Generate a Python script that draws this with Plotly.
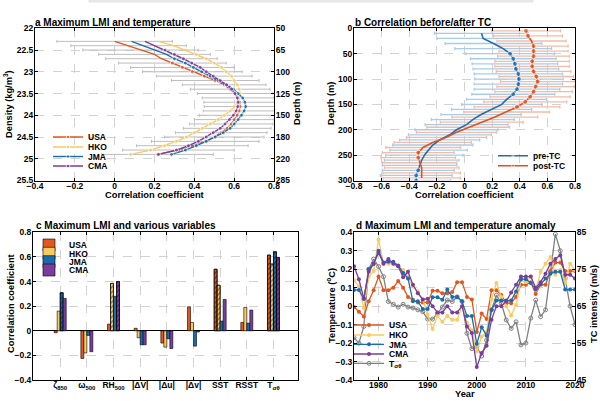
import plotly.graph_objects as go

W, H = 600, 401
FAM = "Liberation Sans"

# ---------------- panel a: max LMI vs temperature, per density level
density = [22.3, 22.4, 22.5, 22.6, 22.7, 22.8, 22.9, 23.0, 23.1, 23.2, 23.3, 23.4, 23.5, 23.6,
           23.7, 23.8, 23.9, 24.0, 24.1, 24.2, 24.3, 24.4, 24.5, 24.6, 24.7, 24.8, 24.9]
a_usa = [0.00, 0.07, 0.13, 0.20, 0.235, 0.29, 0.34, 0.39, 0.45, 0.505, 0.55, 0.58, 0.605, 0.62,
         0.628, 0.63, 0.625, 0.615, 0.60, 0.585, 0.565, 0.535, 0.50, 0.455, 0.39, 0.32, 0.215]
a_hko = [0.22, 0.295, 0.353, 0.41, 0.46, 0.50, 0.537, 0.56, 0.587, 0.60, 0.615, 0.625, 0.63, 0.625,
         0.615, 0.60, 0.58, 0.55, 0.52, 0.48, 0.44, 0.40, 0.36, 0.31, 0.25, 0.18, 0.08]
a_jma = [0.085, 0.145, 0.20, 0.26, 0.30, 0.355, 0.395, 0.437, 0.48, 0.52, 0.562, 0.596, 0.62, 0.643,
         0.654, 0.658, 0.65, 0.637, 0.62, 0.60, 0.58, 0.545, 0.505, 0.46, 0.41, 0.355, 0.285]
a_cma = [0.152, 0.20, 0.253, 0.30, 0.345, 0.387, 0.43, 0.46, 0.495, 0.53, 0.562, 0.587, 0.604, 0.616,
         0.62, 0.618, 0.61, 0.596, 0.576, 0.554, 0.53, 0.495, 0.46, 0.42, 0.37, 0.31, 0.22]
a_spread = [0.29, 0.29, 0.29, 0.28, 0.28, 0.27, 0.26, 0.25, 0.24, 0.22, 0.21, 0.20, 0.19, 0.18,
            0.18, 0.18, 0.18, 0.19, 0.20, 0.21, 0.22, 0.23, 0.25, 0.27, 0.28, 0.28, 0.28]
a_density_ticks = [22, 22.5, 23, 23.5, 24, 24.5, 25, 25.5]
a_depth_labels = ["50", "65", "100", "125", "150", "180", "220", "285"]

# ---------------- panel b: correlation before / after TC
b_depth_pre = [10, 20, 30, 40, 50, 60, 70, 80, 90, 100, 110, 120, 130, 140, 150,
               160, 170, 180, 190, 200, 210, 220, 230, 240, 250, 260, 270, 280, 290, 300]
b_pre = [0.123, 0.135, 0.21, 0.28, 0.33, 0.353, 0.365, 0.372, 0.39, 0.394, 0.39, 0.38, 0.353, 0.305,
         0.27, 0.196, 0.12, 0.06, 0.015, -0.058, -0.106, -0.18, -0.23, -0.26, -0.29, -0.31, -0.325,
         -0.335, -0.35, -0.35]
b_pre_err = [0.34, 0.335, 0.35, 0.35, 0.32, 0.31, 0.31, 0.31, 0.32, 0.32, 0.32, 0.31, 0.30, 0.29, 0.29,
             0.29, 0.29, 0.30, 0.30, 0.30, 0.30, 0.29, 0.29, 0.28, 0.28, 0.27, 0.27, 0.26, 0.26, 0.25]
b_depth_post = [5, 15, 25, 35, 45, 55, 65, 75, 85, 95, 105, 115, 125, 135, 145,
                155, 165, 175, 185, 195, 205, 215, 225, 235, 245, 255, 265, 275, 285, 295]
b_post = [0.445, 0.46, 0.485, 0.50, 0.50, 0.50, 0.49, 0.49, 0.50, 0.52, 0.53, 0.515, 0.50, 0.475,
          0.44, 0.38, 0.305, 0.22, 0.125, 0.027, -0.058, -0.13, -0.23, -0.30, -0.335, -0.335,
          -0.325, -0.31, -0.31, -0.31]
b_post_err = [0.25, 0.25, 0.25, 0.25, 0.25, 0.26, 0.27, 0.27, 0.27, 0.27, 0.27, 0.28, 0.28, 0.29, 0.30,
              0.31, 0.31, 0.31, 0.30, 0.30, 0.29, 0.29, 0.28, 0.27, 0.26, 0.27, 0.27, 0.27, 0.28, 0.28]
b_pre_marked = [50, 60, 70, 80, 90, 100, 110, 120, 130, 280, 290, 300]
b_post_marked = [5, 15, 35, 45, 55, 65, 75, 85, 95, 105, 115, 125, 135, 145, 155, 245, 255]

# ---------------- panel c: max LMI and various variables
c_vars = ["ζ<sub>850</sub>", "ω<sub>500</sub>", "RH<sub>500</sub>", "|ΔV|", "|Δu|", "|Δv|",
          "SST", "RSST", "T<sub>σθ</sub>"]
c_usa = [-0.016, -0.225, 0.054, 0.02, -0.10, 0.195, 0.50, 0.068, 0.615]
c_hko = [0.16, -0.18, 0.385, -0.057, -0.133, 0.068, 0.37, 0.19, 0.542]
c_jma = [0.309, -0.038, 0.28, -0.114, -0.065, -0.125, 0.079, 0.062, 0.642]
c_cma = [0.263, -0.17, 0.40, -0.114, -0.144, -0.01, 0.255, 0.168, 0.596]
c_usa_sig = [False, False, False, False, False, False, True, False, True]
c_hko_sig = [False, False, True, False, False, False, True, False, True]
c_jma_sig = [True, False, False, False, False, False, False, False, True]
c_cma_sig = [False, False, True, False, False, False, False, False, True]

# ---------------- panel d: max LMI and temperature anomaly
years = [1975, 1976, 1977, 1978, 1979, 1980, 1981, 1982, 1983, 1984, 1985, 1986, 1987, 1988, 1989,
         1990, 1991, 1992, 1993, 1994, 1995, 1996, 1997, 1998, 1999, 2000, 2001, 2002, 2003, 2004,
         2005, 2006, 2007, 2008, 2009, 2010, 2011, 2012, 2013, 2014, 2015, 2016, 2017, 2018, 2019,
         2020]
d_usa = [64.8, 63.5, 62.2, 66.3, 69.3, 73.0, 69.3, 69.3, 70.0, 71.8, 70.0, 67.5, 66.7, 66.0, 66.0,
         66.0, 69.2, 69.2, 68.5, 68.5, 68.8, 71.5, 71.5, 67.5, 66.8, 58.0, 63.0, 61.5, 69.3, 69.3,
         68.0, 65.8, 65.8, 67.5, 70.8, 70.8, 71.5, 68.3, 70.8, 70.8, 74.5, 76.8, 76.8, 74.5, 74.5,
         74.5]
d_hko = [72.0, 70.3, 64.5, 73.0, 74.5, 83.0, 76.5, 76.5, 76.5, 75.8, 74.8, 73.0, 70.3, 69.0, 66.8,
         62.8, 58.8, 62.3, 60.8, 62.3, 61.3, 61.3, 65.0, 60.5, 58.5, 52.8, 56.8, 58.0, 66.8, 71.3,
         67.5, 65.0, 62.5, 65.3, 72.0, 71.5, 73.0, 69.3, 74.3, 76.5, 78.3, 73.5, 74.8, 71.3, 76.5,
         74.8]
d_jma = [69.4, 69.4, 67.0, 75.0, 76.5, 80.0, 76.8, 77.0, 77.0, 76.0, 74.0, 72.5, 66.3, 66.3, 64.2,
         64.2, 67.4, 67.4, 66.7, 69.5, 67.5, 67.5, 66.3, 62.3, 62.3, 54.8, 59.3, 57.0, 64.0, 66.5,
         66.5, 66.5, 66.5, 69.0, 72.3, 72.3, 71.3, 69.5, 71.0, 72.5, 73.8, 74.3, 74.3, 69.5, 69.5,
         69.5]
d_cma = [75.8, 72.3, 67.0, 74.3, 76.5, 79.5, 76.5, 77.8, 76.5, 75.8, 72.8, 74.3, 70.8, 68.5, 66.8,
         67.0, 65.0, 63.3, 63.3, 65.0, 63.3, 63.3, 65.0, 59.5, 57.7, 48.5, 52.3, 54.3, 61.3, 65.0,
         65.0, 66.3, 68.7, 70.8, 73.0, 73.0, 73.0, 70.0, 71.5, 73.8, 76.5, 77.8, 78.8, 73.5, 73.5,
         72.5]
d_tsig = [-0.17, -0.20, -0.11, 0.20, 0.255, 0.215, 0.16, 0.025, 0.01, -0.005, 0.01, -0.005, -0.01,
          -0.02, -0.03, -0.07, -0.07, -0.04, -0.005, 0.033, 0.025, 0.05, 0.025, -0.147, -0.23,
          -0.22, -0.27, -0.185, -0.02, 0.06, 0.015, -0.075, -0.12, -0.085, -0.21, -0.20, -0.065,
          0.033, -0.057, -0.02, 0.185, 0.39, 0.30, 0.15, 0.0, -0.10]

USA_C, HKO_C, JMA_C, CMA_C = "#E2561F", "#FACB5E", "#196DAF", "#7B3C9E"
GREY = "#808080"
PRE_C, POST_C = "#1F6EB4", "#E0521E"
PRE_E, POST_E = "#A9CCEA", "#F4BCA5"

TICKFONT = dict(family=FAM, size=8.5, color="black", weight="bold")
LEGFONT = dict(family=FAM, size=8.5, color="black", weight="bold")


def axstyle(**kw):
    base = dict(showline=True, linecolor="black", linewidth=1, ticks="inside", ticklen=3,
                tickcolor="black", showgrid=True, gridcolor="#d2d2d2", griddash="dash",
                gridwidth=0.8, zeroline=False, tickfont=TICKFONT, automargin=False)
    base.update(kw)
    return base


def leg(xpx, ypx):
    return dict(x=xpx / W, y=1 - ypx / H, xanchor="left", yanchor="middle",
                bgcolor="rgba(0,0,0,0)", borderwidth=0, font=LEGFONT, itemwidth=30,
                tracegroupgap=0)


def sizes(depths, marked, s=5):
    return [s if d in marked else 0 for d in depths]


fig = go.Figure()

# --- a
fig.add_trace(go.Scatter(x=a_usa, y=density, mode="markers", marker=dict(size=1, color="rgba(0,0,0,0)"),
                         error_x=dict(type="data", array=a_spread, color="#bdbdbd", thickness=1, width=1.5),
                         showlegend=False, hoverinfo="skip", xaxis="x", yaxis="y"))
for i, (name, vals, col, first) in enumerate([("USA", a_usa, USA_C, 5), ("HKO", a_hko, HKO_C, 3),
                                               ("JMA", a_jma, JMA_C, 4), ("CMA", a_cma, CMA_C, 2)]):
    msize = [0 if k < first else 4 for k in range(len(vals))]
    fig.add_trace(go.Scatter(x=vals, y=density, name=name, mode="lines+markers",
                             line=dict(color=col, width=1.4), marker=dict(size=msize, color=col),
                             xaxis="x", yaxis="y", legend="legend" if i == 0 else "legend%d" % (i + 1)))
# dummy trace so the depth axis on the right gets drawn
fig.add_trace(go.Scatter(x=a_usa, y=density, mode="markers", marker=dict(size=1, color="rgba(0,0,0,0)"),
                         showlegend=False, hoverinfo="skip", xaxis="x", yaxis="y2"))

# --- b
fig.add_trace(go.Scatter(x=b_pre, y=b_depth_pre, mode="markers", marker=dict(size=1, color="rgba(0,0,0,0)"),
                         error_x=dict(type="data", array=b_pre_err, color=PRE_E, thickness=1.3, width=1.5),
                         showlegend=False, hoverinfo="skip", xaxis="x2", yaxis="y3"))
fig.add_trace(go.Scatter(x=b_post, y=b_depth_post, mode="markers", marker=dict(size=1, color="rgba(0,0,0,0)"),
                         error_x=dict(type="data", array=b_post_err, color=POST_E, thickness=1.3, width=1.5),
                         showlegend=False, hoverinfo="skip", xaxis="x2", yaxis="y3"))
fig.add_trace(go.Scatter(x=b_pre, y=b_depth_pre, name="pre-TC", mode="lines+markers",
                         line=dict(color=PRE_C, width=1.6),
                         marker=dict(size=sizes(b_depth_pre, b_pre_marked), color=PRE_C),
                         xaxis="x2", yaxis="y3", legend="legend5"))
fig.add_trace(go.Scatter(x=b_post, y=b_depth_post, name="post-TC", mode="lines+markers",
                         line=dict(color=POST_C, width=1.6),
                         marker=dict(size=sizes(b_depth_post, b_post_marked), color=POST_C),
                         xaxis="x2", yaxis="y3", legend="legend6"))

# --- c
for i, (name, vals, sig, col) in enumerate([("USA", c_usa, c_usa_sig, USA_C), ("HKO", c_hko, c_hko_sig, HKO_C),
                                             ("JMA", c_jma, c_jma_sig, JMA_C), ("CMA", c_cma, c_cma_sig, CMA_C)]):
    fig.add_trace(go.Bar(x=c_vars, y=vals, name=name, offsetgroup=name,
                         marker=dict(color=col, line=dict(color="black", width=0.6)),
                         xaxis="x3", yaxis="y4", legend="legend%d" % (7 + i)))
    hatched = [v if s else None for v, s in zip(vals, sig)]
    fig.add_trace(go.Bar(x=c_vars, y=hatched, offsetgroup=name, showlegend=False, hoverinfo="skip",
                         marker=dict(color="rgba(0,0,0,0)", line=dict(color="black", width=0.6),
                                     pattern=dict(shape="/", fgcolor="black", size=3.5, solidity=0.35,
                                                  fillmode="overlay")),
                         xaxis="x3", yaxis="y4"))

# --- d
fig.add_trace(go.Scatter(x=years, y=d_tsig, name="T<sub>σθ</sub>", mode="lines+markers",
                         line=dict(color=GREY, width=1.3), marker=dict(size=4, color=GREY, symbol="circle-open"),
                         xaxis="x4", yaxis="y5", legend="legend15"))
for i, (name, vals, col) in enumerate([("USA", d_usa, USA_C), ("HKO", d_hko, HKO_C),
                                        ("JMA", d_jma, JMA_C), ("CMA", d_cma, CMA_C)]):
    fig.add_trace(go.Scatter(x=years, y=vals, name=name, mode="lines+markers",
                             line=dict(color=col, width=1.3), marker=dict(size=4, color=col),
                             xaxis="x4", yaxis="y6", legend="legend%d" % (11 + i)))

dom_ax = [35 / W, 274 / W]
dom_bx = [354 / W, 575 / W]
dom_cx = [33 / W, 298 / W]
dom_top = [1 - 180.5 / H, 1 - 28.3 / H]
dom_bot = [1 - 380 / H, 1 - 232.3 / H]

legends = {}
for i, ypx in enumerate([137, 147, 156.5, 166]):
    legends["legend" if i == 0 else "legend%d" % (i + 1)] = leg(48, ypx)
legends["legend5"] = leg(493, 155.7)
legends["legend6"] = leg(493, 165.7)
for i, ypx in enumerate([245, 253.3, 261.7, 270]):
    legends["legend%d" % (7 + i)] = leg(29, ypx)
for i, ypx in enumerate([325, 335, 344.3, 354]):
    legends["legend%d" % (11 + i)] = leg(349, ypx)
legends["legend15"] = leg(349, 363.3)


def ann(text, xpx, ypx, size=9.3, angle=0, xanchor="center"):
    return dict(text=text, x=xpx / W, y=1 - ypx / H, xref="paper", yref="paper", showarrow=False,
                textangle=angle, xanchor=xanchor, yanchor="middle",
                font=dict(family=FAM, size=size, color="black", weight="bold"))


annotations = [
    ann("a Maximum LMI and temperature", 33, 22, size=10, xanchor="left"),
    ann("b Correlation before/after TC", 353, 22, size=10, xanchor="left"),
    ann("c Maximum LMI and various variables", 34, 225, size=10, xanchor="left"),
    ann("d Maximum LMI and temperature anomaly", 354, 225, size=10, xanchor="left"),
    ann("Correlation coefficient", 154.5, 195),
    ann("Correlation coefficient", 464.5, 195),
    ann("Year", 464.5, 394),
    ann("Density (kg/m<sup>3</sup>)", 8, 104, angle=-90),
    ann("Depth (m)", 297, 104, angle=-90),
    ann("Depth (m)", 331, 104, angle=-90),
    ann("Correlation coefficient", 11, 304, angle=-90),
    ann("Temperature (<sup>o</sup>C)", 331, 306, angle=-90),
    ann("TC intensity (m/s)", 594, 304, angle=-90),
]

XSTAND = -3

fig.update_layout(
    width=W, height=H, margin=dict(l=0, r=0, t=0, b=0),
    paper_bgcolor="white", plot_bgcolor="white",
    font=dict(family=FAM, size=8.5, color="black", weight="bold"),
    barmode="group", bargap=0.55, bargroupgap=0,
    annotations=annotations,
    shapes=[dict(type="rect", xref="paper", yref="paper", x0=89 / W, x1=533 / W, y0=1 - 2 / H, y1=1,
                 fillcolor="#efefef", line=dict(color="#dddddd", width=0.8))],
    xaxis=axstyle(domain=dom_ax, anchor="y", range=[-0.4, 0.8], dtick=0.2, mirror="ticks",
                  ticklabelstandoff=XSTAND),
    yaxis=axstyle(domain=dom_top, anchor="x", range=[25.5, 22], tickvals=a_density_ticks, mirror=True,
                  ticklabelstandoff=-1),
    yaxis2=axstyle(overlaying="y", anchor="x", side="right", range=[25.5, 22], tickvals=a_density_ticks,
                   ticktext=a_depth_labels, showgrid=False, ticklabelstandoff=-1),
    xaxis2=axstyle(domain=dom_bx, anchor="y3", range=[-0.8, 0.8], dtick=0.2, mirror="ticks",
                   ticklabelstandoff=XSTAND),
    yaxis3=axstyle(domain=dom_top, anchor="x2", range=[300, 0], dtick=50, mirror="ticks",
                   ticklabelstandoff=-1),
    xaxis3=axstyle(domain=dom_cx, anchor="y4", range=[-1.02, 8.92], mirror="ticks",
                   ticklabelstandoff=XSTAND),
    yaxis4=axstyle(domain=dom_bot, anchor="x3", range=[-0.4, 0.8], dtick=0.2, mirror="ticks",
                   zeroline=True, zerolinecolor="black", zerolinewidth=1.2, ticklabelstandoff=-1),
    xaxis4=axstyle(domain=dom_bx, anchor="y5", range=[1975, 2020], tickvals=[1980, 1990, 2000, 2010, 2020],
                   mirror="ticks", ticklabelstandoff=XSTAND),
    yaxis5=axstyle(domain=dom_bot, anchor="x4", range=[-0.4, 0.4], dtick=0.1, mirror=True,
                   ticklabelstandoff=-1),
    yaxis6=axstyle(overlaying="y5", anchor="x4", side="right", range=[45, 85],
                   tickvals=[45, 55, 65, 75, 85], showgrid=False, ticklabelstandoff=-1),
    **legends,
)

fig.write_html("out.html", config={"displayModeBar": False},
               post_script="document.body.style.margin='0px';")
